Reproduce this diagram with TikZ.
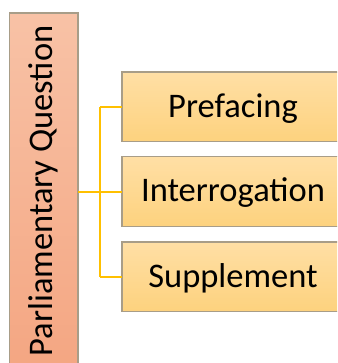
\documentclass[tikz,border=0pt]{standalone}
\usepackage{fontspec}
\setmainfont{Carlito}
\begin{document}
\begin{tikzpicture}[x=1pt,y=-1pt,
  every node/.style={inner sep=0pt, outer sep=0pt},
  boxtext/.style={font=\fontsize{34.5}{41}\selectfont, text=black},
  rootbox/.style={draw=edgegrey, line width=1.5pt, minimum width=68.5pt, minimum height=356pt,
    top color=rootTop, bottom color=rootBot},
  leafbox/.style={draw=edgegrey, line width=1.5pt, minimum width=250pt, minimum height=69.5pt,
    top color=leafTop, bottom color=leafBot},
  leaflabel/.style={label={[boxtext, xshift=-14pt, yshift=-1.5pt]center:#1}},
  link/.style={draw=linkgold, line width=2pt}]
  \definecolor{edgegrey}{HTML}{A89D88}
  \definecolor{rootTop}{HTML}{F8C2A6}
  \definecolor{rootBot}{HTML}{F4A682}
  \definecolor{leafTop}{HTML}{FFDFA5}
  \definecolor{leafBot}{HTML}{FDD27E}
  \definecolor{linkgold}{HTML}{FFC000}
  \useasboundingbox (0,0) rectangle (337,363);
  \clip (0,0) rectangle (337,363);

  % vertical root box with rotated title
  \node[rootbox] (root) at (43.75,191) {};
  \node[boxtext, rotate=90] (title) at (43,191) {Parliamentary Question};

  % child boxes (they run past the right edge of the page)
  \node[leafbox, leaflabel=Prefacing]    (pref)  at (247,107)   {};
  \node[leafbox, leaflabel=Interrogation] (inter) at (247,191.5) {};
  \node[leafbox, leaflabel=Supplement]   (supp)  at (247,276.5) {};

  % tree connectors
  \coordinate (fork) at (100,191.5);
  \draw[link] (root.east |- fork) -- (fork);
  \draw[link] (fork |- pref.west) -- (fork |- supp.west);
  \draw[link] (fork |- pref.west) -- (pref.west);
  \draw[link] (fork) -- (inter.west);
  \draw[link] (fork |- supp.west) -- (supp.west);
\end{tikzpicture}
\end{document}
